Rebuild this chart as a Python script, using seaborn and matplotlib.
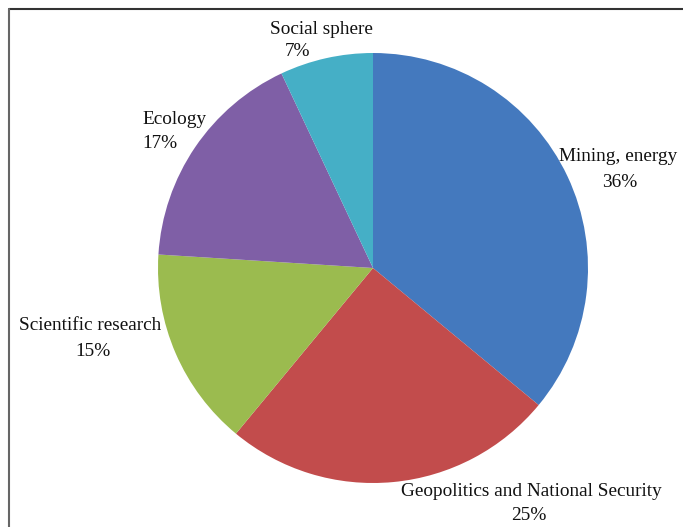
import matplotlib
matplotlib.use("Agg")
import matplotlib.pyplot as plt
import seaborn as sns
from matplotlib.lines import Line2D

sns.set_theme(style="white")
plt.rcParams['font.family'] = ['Liberation Serif', 'DejaVu Serif']

categories = ["Mining, energy", "Geopolitics and National Security", "Scientific research", "Ecology", "Social sphere"]
values = [36, 25, 15, 17, 7]
colors = ["#4479BE", "#C24C4C", "#9BBB4F", "#7F5FA6", "#45AFC6"]

W, H = 683, 527
fig = plt.figure(figsize=(W / 100, H / 100), dpi=100)
fig.patch.set_facecolor("white")

cx, cy, r = 373, 268, 215
ax = fig.add_axes([(cx - r) / W, (H - cy - r) / H, 2 * r / W, 2 * r / H])
ax.pie(values, colors=colors, startangle=90, counterclock=False, radius=1,
       wedgeprops=dict(linewidth=0))
ax.set_xlim(-1, 1)
ax.set_ylim(-1, 1)
ax.set_aspect("equal")
ax.axis("off")

def px(x, y):
    return (x / W, 1 - y / H)

fs = 13.9
# label positions (pixel coords): (x, y, ha) for name and percentage lines
label_pos = {
    "Mining, energy": ((618, 157, "center"), (620, 183, "center")),
    "Geopolitics and National Security": ((531, 491, "center"), (529, 516, "center")),
    "Scientific research": ((90, 326, "center"), (93, 351, "center")),
    "Ecology": ((142, 119, "left"), (142, 144, "left")),
    "Social sphere": ((321, 29, "center"), (298, 52, "center")),
}
for cat, val in zip(categories, values):
    (x1, y1, ha1), (x2, y2, ha2) = label_pos[cat]
    fig.text(*px(x1, y1), cat, ha=ha1, va="center", fontsize=fs, color="#111111")
    fig.text(*px(x2, y2), f"{val}%", ha=ha2, va="center", fontsize=fs, color="#111111")

# frame lines (top and left)
fig.add_artist(Line2D([9 / W, 1], [1 - 9 / H, 1 - 9 / H], color="#333333", lw=1.5, transform=fig.transFigure))
fig.add_artist(Line2D([9 / W, 9 / W], [0, 1 - 9 / H], color="#666666", lw=1.5, transform=fig.transFigure))

fig.savefig("out.png", dpi=100, facecolor="white")
